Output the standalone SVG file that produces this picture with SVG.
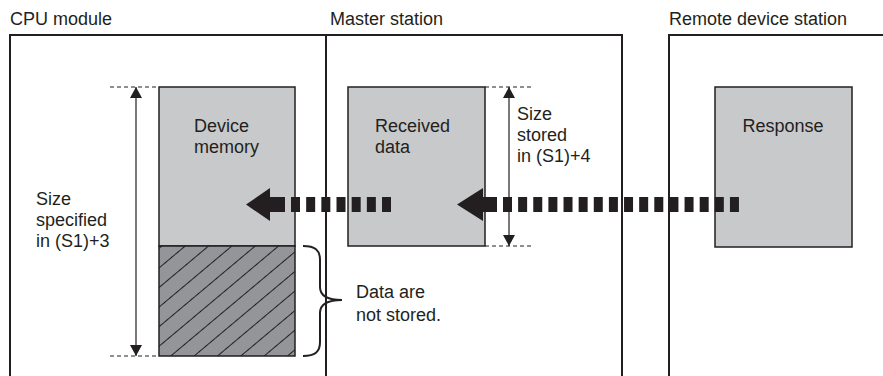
<svg xmlns="http://www.w3.org/2000/svg" width="883" height="376" viewBox="0 0 883 376">
<style>
  text { font-family: "Liberation Sans", Arial, sans-serif; font-size: 18px; fill: #231f20; }
  .frame { fill: none; stroke: #231f20; stroke-width: 2; }
  .box { fill: #c8c9cb; stroke: #231f20; stroke-width: 1.5; }
  .dim { fill: none; stroke: #231f20; stroke-width: 1.2; }
  .ext { fill: none; stroke: #231f20; stroke-width: 1; stroke-dasharray: 4 3; }
  .big { fill: #231f20; }
  .bigdash { fill: none; stroke: #231f20; stroke-width: 15; }
</style>
<defs>
  <pattern id="hatch" patternUnits="userSpaceOnUse" width="15" height="15" patternTransform="rotate(-40)">
    <rect width="15" height="15" fill="#939598"/>
    <line x1="0" y1="7.5" x2="15" y2="7.5" stroke="#231f20" stroke-width="1"/>
  </pattern>
  <marker id="ah" viewBox="0 0 11 12" refX="11" refY="6" markerWidth="11" markerHeight="12" markerUnits="userSpaceOnUse" orient="auto-start-reverse">
    <path d="M0,0 L11,6 L0,12 Z" fill="#231f20"/>
  </marker>
</defs>

<g id="cpu-module">
  <text x="10" y="25">CPU module</text>
  <path class="frame" d="M10,376 V35 H622 V376"/>
</g>
<g id="master-station">
  <text x="330" y="25">Master station</text>
  <line class="frame" x1="326" y1="35" x2="326" y2="376"/>
</g>
<g id="remote-device-station">
  <text x="669" y="25">Remote device station</text>
  <path class="frame" d="M669,376 V35 H883"/>
</g>

<g id="device-memory">
  <rect class="box" x="159" y="87" width="136" height="159"/>
  <rect x="159" y="246" width="136" height="110" fill="url(#hatch)" stroke="#231f20" stroke-width="1.5"/>
  <text x="194" y="132">Device</text>
  <text x="194" y="153">memory</text>
</g>

<g id="received-data">
  <rect class="box" x="348" y="87" width="137" height="159"/>
  <text x="375" y="132">Received</text>
  <text x="375" y="153">data</text>
</g>

<g id="response">
  <rect class="box" x="715" y="87" width="137" height="160"/>
  <text x="783" y="132" text-anchor="middle">Response</text>
</g>

<g id="label-size-specified">
  <text x="36" y="205">Size</text>
  <text x="36" y="226">specified</text>
  <text x="36" y="247">in (S1)+3</text>
</g>

<g id="label-size-stored">
  <text x="517" y="120">Size</text>
  <text x="517" y="141">stored</text>
  <text x="517" y="162">in (S1)+4</text>
</g>

<g id="label-not-stored">
  <path fill="none" stroke="#231f20" stroke-width="2" d="M303,246 C315,246 320,250 320,260 L320,287 C320,295 327,300 342,300 C327,300 320,305 320,313 L320,342 C320,352 315,356 303,356"/>
  <text x="356" y="298">Data are</text>
  <text x="356" y="321">not stored.</text>
</g>

<g id="connectors">
  <line class="ext" x1="110" y1="87" x2="159" y2="87"/>
  <line class="ext" x1="110" y1="356" x2="159" y2="356"/>
  <line class="dim" x1="136" y1="87" x2="136" y2="356" marker-start="url(#ah)" marker-end="url(#ah)"/>

  <line class="ext" x1="485" y1="87" x2="533" y2="87"/>
  <line class="ext" x1="485" y1="246" x2="533" y2="246"/>
  <line class="dim" x1="509" y1="87" x2="509" y2="246" marker-start="url(#ah)" marker-end="url(#ah)"/>

  <polygon class="big" points="246,204.5 270,188 270,197 285,197 285,212 270,212 270,221"/>
  <line class="bigdash" x1="291" y1="204.5" x2="391" y2="204.5" stroke-dasharray="9 6.17"/>

  <polygon class="big" points="457,204.5 483,188 483,197 497,197 497,212 483,212 483,221"/>
  <line class="bigdash" x1="503" y1="204.5" x2="739" y2="204.5" stroke-dasharray="9 6.13"/>
</g>
</svg>
